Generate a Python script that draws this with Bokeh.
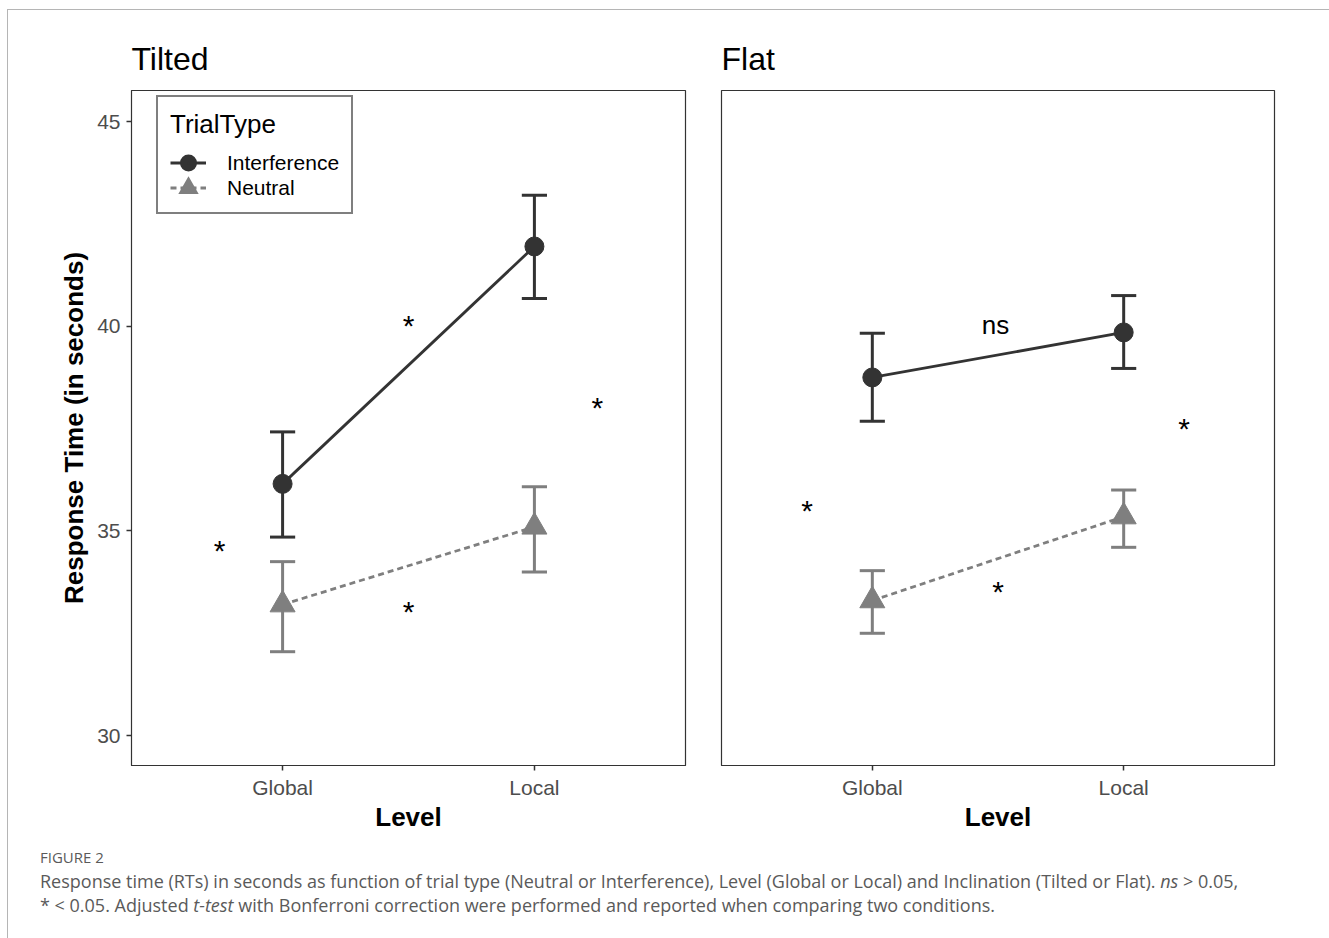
from bokeh.plotting import figure
from bokeh.models import (Range1d, FixedTicker, Legend, LegendItem, Div)
from bokeh.layouts import row, column
from bokeh.embed import file_html
from bokeh.resources import INLINE
from bokeh.core.properties import value

# ---------------- data ----------------
levels = ["Global", "Local"]
level_pos = [1, 2]

tilted_interf_mean = [36.15, 41.95]
tilted_interf_low = [34.85, 40.68]
tilted_interf_high = [37.42, 43.20]
tilted_neutral_mean = [33.20, 35.10]
tilted_neutral_low = [32.05, 34.00]
tilted_neutral_high = [34.25, 36.08]

flat_interf_mean = [38.75, 39.85]
flat_interf_low = [37.68, 38.97]
flat_interf_high = [39.83, 40.75]
flat_neutral_mean = [33.30, 35.35]
flat_neutral_low = [32.50, 34.60]
flat_neutral_high = [34.03, 36.00]

tilted_sig_labels = ["*", "*", "*", "*"]
tilted_sig_x = [0.75, 1.5, 1.5, 2.25]
tilted_sig_y = [34.52, 40.02, 33.03, 38.01]

flat_sig_labels = ["*", "*", "*"]
flat_sig_x = [0.74, 1.5, 2.24]
flat_sig_y = [35.50, 33.52, 37.50]
flat_ns_label = ["ns"]
flat_ns_x = [1.49]
flat_ns_y = [40.02]

y_ticks = [30, 35, 40, 45]

# ---------------- style ----------------
DARK = "#333333"
GREY = "#7f7f7f"
FONT = "Liberation Sans"
YR = Range1d(29.27, 45.76)
CAP = 0.05


def make_panel(title, interf, neutral, show_y, width, ml, mr):
    p = figure(width=width, height=830, x_range=Range1d(0.4, 2.6), y_range=YR,
               output_backend="svg", toolbar_location=None,
               min_border_left=ml, min_border_right=mr,
               min_border_top=80, min_border_bottom=75)
    p.title.text = title
    p.title.text_font = FONT
    p.title.text_font_size = "32px"
    p.title.text_font_style = "normal"
    p.title.text_color = "black"
    p.title.align = "left"
    p.title.offset = 0
    p.title.standoff = 27

    p.grid.visible = False
    p.background_fill_color = "white"
    p.border_fill_color = "white"
    p.outline_line_color = DARK
    p.outline_line_width = 1.2

    p.xaxis.ticker = FixedTicker(ticks=level_pos)
    p.xaxis.major_label_overrides = {pos: lab for pos, lab in zip(level_pos, levels)}
    p.xaxis.axis_label = "Level"
    for ax in [p.xaxis, p.yaxis]:
        ax.axis_line_color = DARK
        ax.major_tick_line_color = DARK
        ax.major_tick_line_width = 1.5
        ax.major_tick_in = 0
        ax.major_tick_out = 5
        ax.minor_tick_line_color = None
        ax.major_label_text_font = FONT
        ax.major_label_text_font_size = "21px"
        ax.major_label_text_color = "#4d4d4d"
        ax.axis_label_text_font = FONT
        ax.axis_label_text_font_size = "26px"
        ax.axis_label_text_font_style = "bold"
        ax.axis_label_text_color = "black"
    p.xaxis.major_label_standoff = 5
    p.xaxis.axis_label_standoff = 0
    p.yaxis.ticker = FixedTicker(ticks=y_ticks)
    p.yaxis.axis_label = "Response Time (in seconds)"
    p.yaxis.major_label_standoff = 6
    p.yaxis.axis_label_standoff = 5
    if not show_y:
        p.yaxis.visible = False

    rends = {}
    for key, (mean, low, high), color, dash, marker, msize, key_lw in [
        ("Interference", interf, DARK, "solid", "circle", 19, 7),
        ("Neutral", neutral, GREY, "6 4", "triangle", 25, 6),
    ]:
        p.segment(x0=level_pos, x1=level_pos, y0=low, y1=high,
                  line_color=color, line_width=3)
        p.segment(x0=[x - CAP for x in level_pos], x1=[x + CAP for x in level_pos],
                  y0=low, y1=low, line_color=color, line_width=3)
        p.segment(x0=[x - CAP for x in level_pos], x1=[x + CAP for x in level_pos],
                  y0=high, y1=high, line_color=color, line_width=3)
        ln = p.line(level_pos, mean, line_color=color, line_width=2.8, line_dash=dash)
        # key marker: tiny marker with heavy outline (hidden under the real marker);
        # it gives the legend key a marker of about the plotted size
        key_sc = p.scatter(level_pos, mean, marker=marker, size=1, fill_color=color,
                           line_color=color, line_width=key_lw, line_join="miter")
        p.scatter(level_pos, mean, marker=marker, size=msize,
                  fill_color=color, line_color=color)
        rends[key] = (ln, key_sc)
    return p, rends


p1, r1 = make_panel("Tilted",
                    (tilted_interf_mean, tilted_interf_low, tilted_interf_high),
                    (tilted_neutral_mean, tilted_neutral_low, tilted_neutral_high),
                    True, 695, 123, 18)
p2, r2 = make_panel("Flat",
                    (flat_interf_mean, flat_interf_low, flat_interf_high),
                    (flat_neutral_mean, flat_neutral_low, flat_neutral_high),
                    False, 591, 18, 20)

p1.text(tilted_sig_x, tilted_sig_y, text=tilted_sig_labels, text_font=value(FONT),
        text_font_size="30px", text_align="center", text_baseline="middle",
        text_color="black")
p2.text(flat_sig_x, flat_sig_y, text=flat_sig_labels, text_font=value(FONT),
        text_font_size="30px", text_align="center", text_baseline="middle",
        text_color="black")
p2.text(flat_ns_x, flat_ns_y, text=flat_ns_label, text_font=value(FONT),
        text_font_size="26px", text_align="center", text_baseline="middle",
        text_color="black")

legend = Legend(items=[LegendItem(label="Interference", renderers=list(r1["Interference"])),
                       LegendItem(label="Neutral", renderers=list(r1["Neutral"]))],
                location=(25, 551), title="TrialType")
legend.title_text_font = FONT
legend.title_text_font_size = "26px"
legend.title_text_font_style = "normal"
legend.title_text_color = "black"
legend.title_standoff = 10
legend.label_text_font = FONT
legend.label_text_font_size = "21px"
legend.label_text_color = "black"
legend.label_standoff = 21
legend.glyph_width = 36
legend.glyph_height = 25
legend.label_height = 25
legend.spacing = 0
legend.padding = 12
legend.margin = 0
legend.border_line_color = "black"
legend.border_line_width = 2
legend.background_fill_color = "white"
legend.background_fill_alpha = 1
p1.add_layout(legend, "center")

caption = Div(text=(
    "<div style=\"font-family:'Open Sans'; color:#5a5a5a; padding-left:27px;\">"
    "<div style='font-size:15px; line-height:18px; margin-top:3px;'>FIGURE 2</div>"
    "<div style='font-size:18px; line-height:24px; margin-top:3px;'>"
    "Response time (RTs) in seconds as function of trial type (Neutral or Interference), "
    "Level (Global or Local) and Inclination (Tilted or Flat). <i>ns</i> &gt; 0.05,<br>"
    "* &lt; 0.05. Adjusted <i>t-test</i> with Bonferroni correction were performed and "
    "reported when comparing two conditions.</div></div>"),
    width=1322, height=90)

layout = column(row(p1, p2), caption, margin=(9, 0, 0, 7),
                styles={"border-top": "1px solid #b5b5b5", "border-left": "1px solid #b5b5b5"})

open("out.html", "w").write(file_html(layout, INLINE))
